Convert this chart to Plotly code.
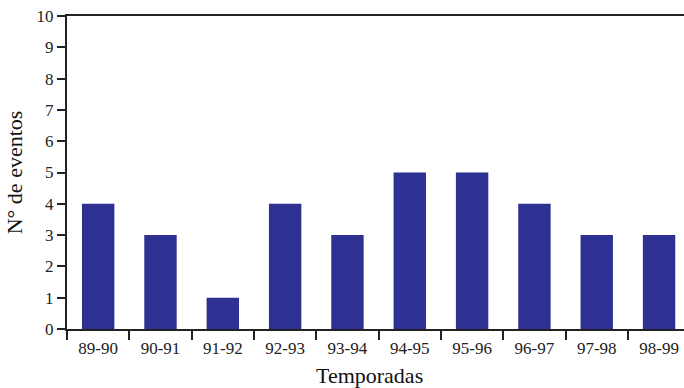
import plotly.graph_objects as go

categories = ["89-90", "90-91", "91-92", "92-93", "93-94", "94-95", "95-96", "96-97", "97-98", "98-99"]
eventos = [4, 3, 1, 4, 3, 5, 5, 4, 3, 3]
y_ticks = list(range(0, 11))

SERIF = "Liberation Serif, Times New Roman, serif"

fig = go.Figure(go.Bar(x=categories, y=eventos, marker_color="#2e3192",
                       marker_line_width=0, width=0.52))

fig.update_layout(
    width=684, height=388,
    margin=dict(l=67, r=0, t=16, b=59),
    plot_bgcolor="white", paper_bgcolor="white",
    font=dict(family=SERIF, size=17, color="#222"),
    showlegend=False,
)
fig.update_xaxes(
    type="category", range=[-0.5, 9.4], automargin=False,
    showline=True, linecolor="#222", linewidth=2, mirror=True,
    ticks="outside", tickson="boundaries", ticklen=9, tickwidth=2, tickcolor="#222",
    showgrid=False, tickfont=dict(family=SERIF, size=17, color="#222"),
    ticklabelstandoff=3,
)
fig.update_yaxes(
    range=[0, 10], tickvals=y_ticks, automargin=False,
    showline=True, linecolor="#222", linewidth=2,
    ticks="outside", ticklen=8, tickwidth=2, tickcolor="#222",
    showgrid=False, zeroline=False, tickfont=dict(family=SERIF, size=17, color="#222"),
    title=dict(text="N° de eventos", font=dict(family=SERIF, size=22, color="#111"), standoff=8),
)
fig.add_annotation(
    text="Temporadas", xref="paper", yref="paper", x=0.491, y=0,
    xanchor="center", yanchor="top", yshift=-32, showarrow=False,
    font=dict(family=SERIF, size=22, color="#111"),
)
fig.write_html("out.html", config={"displayModeBar": False},
               post_script="document.body.style.margin='0';")
